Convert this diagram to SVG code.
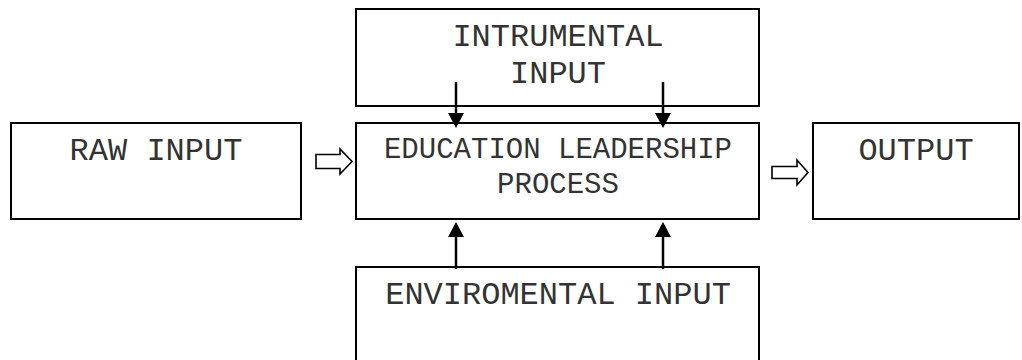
<svg xmlns="http://www.w3.org/2000/svg" width="1022" height="360" viewBox="0 0 1022 360">
<defs>
<style>
.box{fill:#fff;stroke:#000;stroke-width:2}
.t{font-family:"Liberation Mono","Courier New",monospace;fill:#333;text-anchor:middle}
.big{font-size:32px}
.mid{font-size:29px}
.ln{stroke:#000;stroke-width:2.5;fill:none}
.hd{fill:#000}
.hollow{fill:#fff;stroke:#000;stroke-width:1.6;stroke-linejoin:miter}
</style>
</defs>
<rect width="1022" height="360" fill="#fff"/>
<g id="instrumental">
<rect class="box" x="356" y="9" width="403" height="97"/>
<text class="t big" x="558" y="46">INTRUMENTAL</text>
<text class="t big" x="558" y="83">INPUT</text>
</g>
<g id="raw">
<rect class="box" x="11" y="123" width="290" height="96"/>
<text class="t big" x="156" y="160">RAW INPUT</text>
</g>
<g id="process">
<rect class="box" x="356" y="123" width="403" height="96"/>
<text class="t mid" x="558" y="158">EDUCATION LEADERSHIP</text>
<text class="t mid" x="558" y="193">PROCESS</text>
</g>
<g id="output">
<rect class="box" x="813" y="123" width="206" height="96"/>
<text class="t big" x="916" y="160">OUTPUT</text>
</g>
<g id="environmental">
<rect class="box" x="356" y="267" width="403" height="100"/>
<text class="t big" x="558" y="304">ENVIROMENTAL INPUT</text>
</g>
<g id="connectors">
<line class="ln" x1="456" y1="82" x2="456" y2="114"/>
<polygon class="hd" points="448,113 464,113 456,128"/>
<line class="ln" x1="663" y1="82" x2="663" y2="114"/>
<polygon class="hd" points="655,113 671,113 663,128"/>
<line class="ln" x1="456" y1="269" x2="456" y2="236"/>
<polygon class="hd" points="448,237 464,237 456,222"/>
<line class="ln" x1="663" y1="269" x2="663" y2="236"/>
<polygon class="hd" points="655,237 671,237 663,222"/>
<polygon class="hollow" points="316,154.5 340,154.5 340,149 352,161.5 340,174 340,168.5 316,168.5"/>
<polygon class="hollow" points="772,166.5 797,166.5 797,160 808,172.5 797,185 797,178.5 772,178.5"/>
</g>
</svg>
